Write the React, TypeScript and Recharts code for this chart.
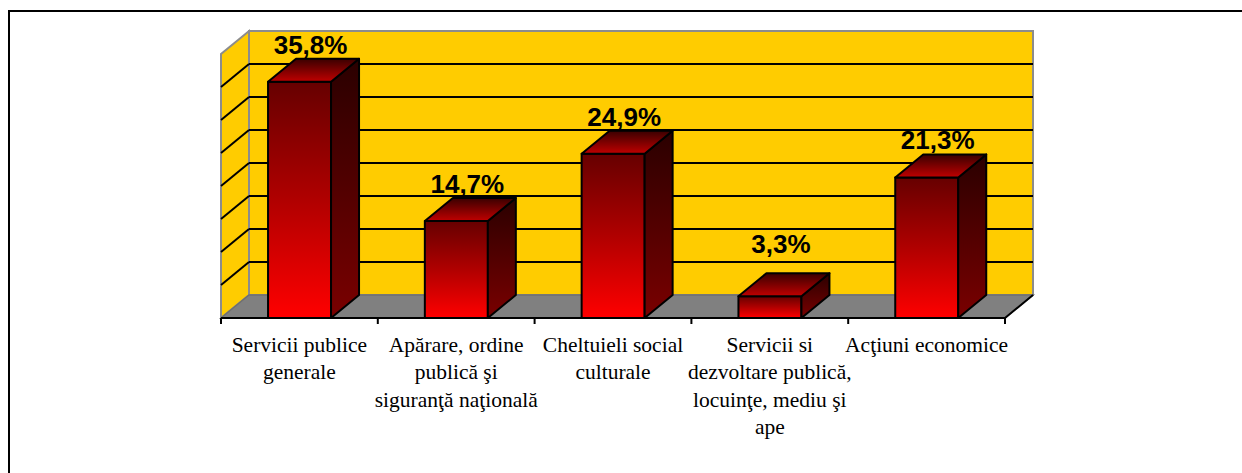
import { Bar, BarChart, LabelList, ReferenceArea, ReferenceLine, XAxis, YAxis } from 'recharts';

// categories (line breaks as in the original labels)
const categories = [
  'Servicii publice\ngenerale',
  'Apărare, ordine\npublică şi\nsiguranţă naţională',
  'Cheltuieli social\nculturale',
  'Servicii si\ndezvoltare publică,\nlocuinţe, mediu şi\nape',
  'Acţiuni economice',
];
const shares = [35.8, 14.7, 24.9, 3.3, 21.3];
const gridValues = [5, 10, 15, 20, 25, 30, 35];
const yMax = 40;

const data = categories.map((name, i) => ({ name, value: shares[i] }));

// 3d depth offset
const DX = 28;
const DY = 23;

const Walls = (props: any) => {
  const { x, y, width, height } = props;
  const b = y + height;
  const r = x + width;
  const n = categories.length;
  const ticks = [];
  for (let i = 0; i <= n; i++) {
    const tx = x + (i * width) / n;
    ticks.push(<line key={i} x1={tx} y1={b} x2={tx} y2={b + 6} stroke="#000" strokeWidth={2} />);
  }
  return (
    <g>
      <rect x={x + DX} y={y - DY} width={width} height={height} fill="#FFCC00" stroke="#8c8c8c" strokeWidth={2} />
      <polygon
        points={`${x},${b} ${x + DX},${b - DY} ${x + DX},${y - DY} ${x},${y}`}
        fill="#FFCC00"
        stroke="#8c8c8c"
        strokeWidth={2}
      />
      <polygon
        points={`${x},${b} ${r},${b} ${r + DX},${b - DY} ${x + DX},${b - DY}`}
        fill="#808080"
        stroke="#707070"
        strokeWidth={1.5}
      />
      <line x1={r} y1={b} x2={r + DX} y2={b - DY} stroke="#000" strokeWidth={2} />
      {ticks}
    </g>
  );
};

const GridLine = (props: any) => {
  const { x1, y1, x2 } = props;
  const left = Math.min(x1, x2);
  const right = Math.max(x1, x2);
  return (
    <g>
      <line x1={left} y1={y1} x2={left + DX} y2={y1 - DY} stroke="#000" strokeWidth={2} />
      <line x1={left + DX} y1={y1 - DY} x2={right + DX} y2={y1 - DY} stroke="#000" strokeWidth={2} />
    </g>
  );
};

const Bar3D = (props: any) => {
  const { x, y, width, height } = props;
  if (!height) return null;
  const r = x + width;
  const b = y + height;
  return (
    <g stroke="#000" strokeWidth={2} strokeLinejoin="round">
      <rect x={x} y={y} width={width} height={height} fill="url(#frontGrad)" />
      <polygon points={`${r},${y} ${r + DX},${y - DY} ${r + DX},${b - DY} ${r},${b}`} fill="url(#sideGrad)" />
      <polygon points={`${x},${y} ${x + DX},${y - DY} ${r + DX},${y - DY} ${r},${y}`} fill="url(#topGrad)" />
    </g>
  );
};

const PctLabel = (props: any) => {
  const { x, y, width, height, value } = props;
  const top = Number(y);
  const bottom = top + Number(height);
  // keep small bars' labels clear of the floor
  const ly = Math.min(top - 28, bottom - 65);
  return (
    <text
      x={Number(x) + Number(width) / 2 + 11}
      y={ly}
      textAnchor="middle"
      fontFamily="'Liberation Sans', Arial, sans-serif"
      fontWeight="bold"
      fontSize={26}
      fill="#000"
    >
      {String(value).replace('.', ',')}%
    </text>
  );
};

const CategoryTick = (props: any) => {
  const { x, y, payload } = props;
  const lines = String(payload.value).split('\n');
  return (
    <text
      x={x}
      y={y}
      textAnchor="middle"
      fontFamily="'Liberation Serif', 'Times New Roman', serif"
      fontSize={21.5}
      fill="#000"
    >
      {lines.map((l, i) => (
        <tspan key={i} x={x} dy={i === 0 ? 34 : 27.3}>
          {l}
        </tspan>
      ))}
    </text>
  );
};

export default function App() {
  return (
    <div
      style={{
        position: 'absolute',
        left: 8,
        top: 10,
        width: 1234,
        height: 463,
        borderTop: '2px solid #000',
        borderLeft: '2px solid #000',
        boxSizing: 'border-box',
        background: '#fff',
      }}
    >
      <BarChart
        width={1232}
        height={461}
        data={data}
        margin={{ top: 42, right: 237, left: 211, bottom: 15 }}
        barCategoryGap="30%"
      >
        <defs>
          <linearGradient id="frontGrad" x1="0" y1="0" x2="0" y2="1">
            <stop offset="0%" stopColor="#660000" />
            <stop offset="50%" stopColor="#b00000" />
            <stop offset="100%" stopColor="#ff0000" />
          </linearGradient>
          <linearGradient id="sideGrad" x1="0" y1="0" x2="0" y2="1">
            <stop offset="0%" stopColor="#2a0000" />
            <stop offset="100%" stopColor="#7a0000" />
          </linearGradient>
          <linearGradient id="topGrad" x1="0" y1="0" x2="0" y2="1">
            <stop offset="0%" stopColor="#3a0000" />
            <stop offset="100%" stopColor="#c00000" />
          </linearGradient>
        </defs>
        <YAxis hide domain={[0, yMax]} type="number" />
        <ReferenceArea y1={0} y2={yMax} shape={Walls} zIndex={-60} ifOverflow="visible" />
        {gridValues.map((v) => (
          <ReferenceLine key={v} y={v} shape={GridLine} zIndex={-40} />
        ))}
        <XAxis
          dataKey="name"
          interval={0}
          tickLine={false}
          tickSize={0}
          tickMargin={0}
          height={140}
          axisLine={{ stroke: '#000', strokeWidth: 2 }}
          tick={CategoryTick}
        />
        <Bar dataKey="value" shape={Bar3D} isAnimationActive={false}>
          <LabelList dataKey="value" content={PctLabel} />
        </Bar>
      </BarChart>
    </div>
  );
}
